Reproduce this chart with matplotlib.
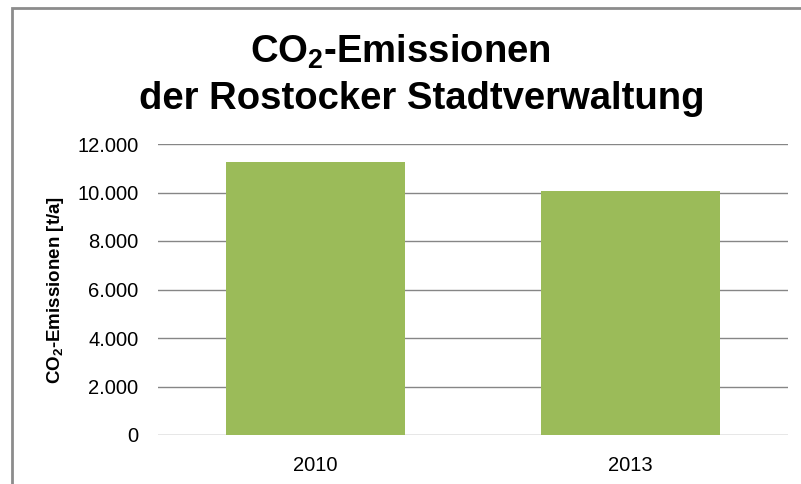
import matplotlib
matplotlib.use("Agg")
import matplotlib.pyplot as plt
from matplotlib.patches import Rectangle
from matplotlib.ticker import FuncFormatter

# data
years = ["2010", "2013"]
emissions = [11260, 10050]
y_ticks = [0, 2000, 4000, 6000, 8000, 10000, 12000]

plt.rcParams["font.family"] = ["Liberation Sans", "DejaVu Sans"]
plt.rcParams["mathtext.fontset"] = "custom"
plt.rcParams["mathtext.rm"] = "Liberation Sans"
plt.rcParams["mathtext.bf"] = "Liberation Sans:bold"

W, H = 801, 484
fig = plt.figure(figsize=(W / 100, H / 100), dpi=100)

# outer chart frame (only left/top visible in the reference)
fig.patches.append(Rectangle((12 / W, -0.05), 1.1, 1 - 8 / H + 0.05,
                             transform=fig.transFigure, fill=False,
                             edgecolor="#8c8c8c", linewidth=2))

ax = fig.add_axes([158 / W, 1 - 435 / H, (788 - 158) / W, (435 - 144) / H])

grid_col = "#868686"
for t in y_ticks:
    ax.axhline(t, color=grid_col, linewidth=1, zorder=1)

ax.bar(range(len(years)), emissions, width=0.567, color="#9BBB59", zorder=2)

ax.set_xlim(-0.5, len(years) - 0.5)
ax.set_ylim(0, 12000)
ax.set_yticks(y_ticks)
ax.yaxis.set_major_formatter(FuncFormatter(lambda v, p: f"{int(v):,}".replace(",", ".")))
ax.set_xticks(range(len(years)))
ax.set_xticklabels(years)
ax.tick_params(axis="y", length=0, pad=14, labelsize=14.5)
ax.tick_params(axis="x", length=0, pad=15, labelsize=14.5)
for s in ax.spines.values():
    s.set_visible(False)

ax.set_ylabel(r"CO$_\mathbf{2}$-Emissionen [t/a]", fontsize=13.5,
              fontweight="bold", labelpad=8)

fig.text(0.5, 1 - 63 / H, r"CO$_\mathbf{2}$-Emissionen", ha="center",
         va="baseline", fontsize=27.5, fontweight="bold")
fig.text(0.527, 1 - 109 / H, "der Rostocker Stadtverwaltung", ha="center",
         va="baseline", fontsize=27.5, fontweight="bold")

fig.savefig("out.png", dpi=100)
